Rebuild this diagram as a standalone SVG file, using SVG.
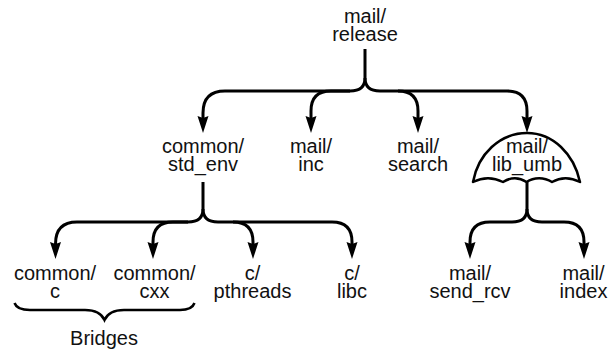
<svg xmlns="http://www.w3.org/2000/svg" width="608" height="352" viewBox="0 0 608 352">
<defs>
<style>
text{font-family:"Liberation Sans",Arial,sans-serif;font-size:20px;fill:#111;text-anchor:middle}
.c{fill:none;stroke:#000;stroke-width:3;stroke-linejoin:round}
.u{fill:#fff;stroke:#000;stroke-width:2.500;stroke-linejoin:round}
</style>
</defs>
<g id="connectors">
<path class="c" d="M365 49V78Q365 91 350 91H225Q203 91 203 113V118"/>
<path class="c" d="M350 91H331Q311 91 311 111V118"/>
<path class="c" d="M365 78Q365 91 380 91H398Q418 91 418 111V118"/>
<path class="c" d="M398 91H507Q527 91 527 111V118"/>
<path class="c" d="M203 182V209Q203 222 188 222H77Q55.500 222 55.500 244"/>
<path class="c" d="M188 222H173Q153 222 153 242V244"/>
<path class="c" d="M203 209Q203 222 218 222H233Q253 222 253 242V244"/>
<path class="c" d="M233 222H332Q352 222 352 242V244"/>
<path class="c" d="M527 182V209Q527 222 512 222H490Q470 222 470 242V244"/>
<path class="c" d="M527 209Q527 222 542 222H564Q584 222 584 242V244"/>
<g fill="#000">
<path d="M197.500 116L203 118L208.500 116L203 133Z"/>
<path d="M305.500 116L311 118L316.500 116L311 133Z"/>
<path d="M412.500 116L418 118L423.500 116L418 133Z"/>
<path d="M521.500 116L527 118L532.500 116L527 133Z"/>
<path d="M50 242L55.500 244L61 242L55.500 259Z"/>
<path d="M147.500 242L153 244L158.500 242L153 259Z"/>
<path d="M247.500 242L253 244L258.500 242L253 259Z"/>
<path d="M346.500 242L352 244L357.500 242L352 259Z"/>
<path d="M464.500 242L470 244L475.500 242L470 259Z"/>
<path d="M578.500 242L584 244L589.500 242L584 259Z"/>
</g>
</g>
<g id="root"><text x="365" y="23">mail/</text><text x="365" y="41">release</text></g>
<g id="common-std-env"><text x="203" y="153">common/</text><text x="203" y="171">std_env</text></g>
<g id="mail-inc"><text x="311" y="153">mail/</text><text x="311" y="171">inc</text></g>
<g id="mail-search"><text x="418" y="153">mail/</text><text x="418" y="171">search</text></g>
<g id="mail-lib-umb">
<path class="u" d="M473 182C478 154 500 133 527 133C553 133 574 154 580 182C570 177 561 177 552 182C544 177 534 177 526.500 182C519 177 511 177 503 182C493 177 483 177 473 182Z"/>
<text x="527" y="153">mail/</text><text x="527" y="171">lib_umb</text>
</g>
<g id="common-c"><text x="55" y="280">common/</text><text x="55" y="298">c</text></g>
<g id="common-cxx"><text x="154.500" y="280">common/</text><text x="154.500" y="298">cxx</text></g>
<g id="c-pthreads"><text x="252.500" y="280">c/</text><text x="252.500" y="298">pthreads</text></g>
<g id="c-libc"><text x="352" y="280">c/</text><text x="352" y="298">libc</text></g>
<g id="mail-send-rcv"><text x="470" y="280">mail/</text><text x="470" y="298">send_rcv</text></g>
<g id="mail-index"><text x="583.500" y="280">mail/</text><text x="583.500" y="298">index</text></g>
<g id="bridges">
<path d="M14.500 303Q17 310 30 310H85Q100 310 104.500 320Q109 310 124 310H180Q192 310 194.500 303" fill="none" stroke="#000" stroke-width="2.500"/>
<text x="104" y="345">Bridges</text>
</g>
</svg>
